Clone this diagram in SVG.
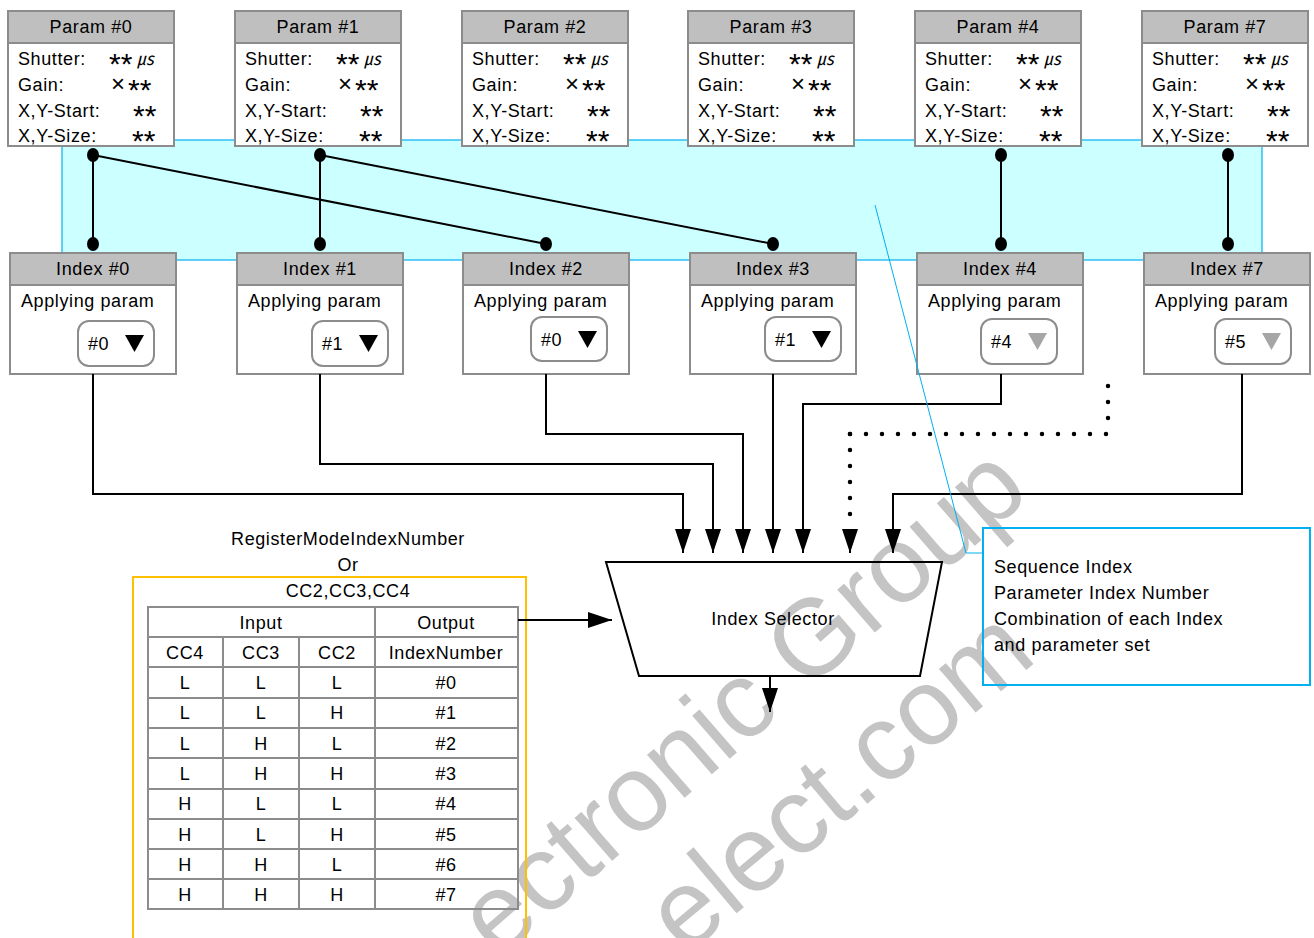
<svg xmlns="http://www.w3.org/2000/svg" width="1314" height="938" viewBox="0 0 1314 938">
<style>
text{font-family:"Liberation Sans",Arial,sans-serif;font-size:18px;fill:#000;letter-spacing:0.6px}
.c{text-anchor:middle}
.ast{font-size:30px;letter-spacing:0}
.x{font-size:24px;letter-spacing:0}
.mu{font-family:"Noto Sans CJK JP","Noto Sans",sans-serif;font-size:17px;font-style:italic;letter-spacing:-1px}
.box{fill:#fff;stroke:#8c8c8c;stroke-width:2}
.hdr{fill:#bfbfbf;stroke:#8c8c8c;stroke-width:2}
.dd{fill:#fff;stroke:#8c8c8c;stroke-width:2}
.ln{fill:none;stroke:#000;stroke-width:2}
.arr{fill:none;stroke:#000;stroke-width:2;marker-end:url(#ah)}
.dot{fill:none;stroke:#000;stroke-width:4.5;stroke-linecap:round;stroke-dasharray:0 16}
.blue{fill:none;stroke:#00b0f0}
.grid{fill:none;stroke:#8c8c8c;stroke-width:2}
.wm{font-size:108px;fill:#c4c4c4;letter-spacing:0}
</style>
<defs>
<marker id="ah" markerUnits="userSpaceOnUse" markerWidth="24" markerHeight="16" refX="24" refY="8" orient="auto" viewBox="0 0 24 16">
<path d="M0,0 L24,8 L0,16 z" fill="#000"/>
</marker>
<ellipse id="jd" rx="6" ry="7" fill="#000"/>
<g id="prows">
<text x="10" y="54">Shutter:</text><text class="ast" x="101" y="63">**</text><text class="mu" x="129" y="54">㎲</text>
<text x="10" y="80">Gain:</text><text class="x" x="103" y="81">×</text><text class="ast" x="120" y="89">**</text>
<text x="10" y="106">X,Y-Start:</text><text class="ast" x="125" y="115">**</text>
<text x="10" y="131">X,Y-Size:</text><text class="ast" x="124" y="140">**</text>
</g>
</defs>
<rect width="1314" height="938" fill="#fff"/>

<!-- watermark -->
<g id="watermark">
<text class="wm c" transform="translate(765,728) rotate(-41)">ectronic Group</text>
<text class="wm c" transform="translate(862,808) rotate(-40)">elect.com</text>
</g>

<!-- cyan region -->
<rect id="region" x="62" y="140" width="1200" height="120" fill="#ccffff" stroke="#00b0f0" stroke-width="1.2"/>

<!-- Param boxes -->
<g id="param0" transform="translate(8,11)">
<rect class="box" width="166" height="135"/><rect class="hdr" width="166" height="32"/>
<text class="c" x="83" y="22">Param #0</text><use href="#prows"/>
</g>
<g id="param1" transform="translate(235,11)">
<rect class="box" width="166" height="135"/><rect class="hdr" width="166" height="32"/>
<text class="c" x="83" y="22">Param #1</text><use href="#prows"/>
</g>
<g id="param2" transform="translate(462,11)">
<rect class="box" width="166" height="135"/><rect class="hdr" width="166" height="32"/>
<text class="c" x="83" y="22">Param #2</text><use href="#prows"/>
</g>
<g id="param3" transform="translate(688,11)">
<rect class="box" width="166" height="135"/><rect class="hdr" width="166" height="32"/>
<text class="c" x="83" y="22">Param #3</text><use href="#prows"/>
</g>
<g id="param4" transform="translate(915,11)">
<rect class="box" width="166" height="135"/><rect class="hdr" width="166" height="32"/>
<text class="c" x="83" y="22">Param #4</text><use href="#prows"/>
</g>
<g id="param7" transform="translate(1142,11)">
<rect class="box" width="166" height="135"/><rect class="hdr" width="166" height="32"/>
<text class="c" x="83" y="22">Param #7</text><use href="#prows"/>
</g>

<!-- Index boxes -->
<g id="index0" transform="translate(10,253)">
<rect class="box" width="166" height="121"/><rect class="hdr" width="166" height="32"/>
<text class="c" x="83" y="22">Index #0</text>
<text x="11" y="54">Applying param</text>
<rect class="dd" x="68" y="68" width="76" height="45" rx="11"/>
<text x="78" y="97">#0</text><polygon points="115,82 134,82 124.5,99" fill="#000"/>
</g>
<g id="index1" transform="translate(237,253)">
<rect class="box" width="166" height="121"/><rect class="hdr" width="166" height="32"/>
<text class="c" x="83" y="22">Index #1</text>
<text x="11" y="54">Applying param</text>
<rect class="dd" x="75" y="68" width="76" height="45" rx="11"/>
<text x="85" y="97">#1</text><polygon points="122,82 141,82 131.5,99" fill="#000"/>
</g>
<g id="index2" transform="translate(463,253)">
<rect class="box" width="166" height="121"/><rect class="hdr" width="166" height="32"/>
<text class="c" x="83" y="22">Index #2</text>
<text x="11" y="54">Applying param</text>
<rect class="dd" x="68" y="64" width="76" height="44" rx="11"/>
<text x="78" y="93">#0</text><polygon points="115,78 134,78 124.5,95" fill="#000"/>
</g>
<g id="index3" transform="translate(690,253)">
<rect class="box" width="166" height="121"/><rect class="hdr" width="166" height="32"/>
<text class="c" x="83" y="22">Index #3</text>
<text x="11" y="54">Applying param</text>
<rect class="dd" x="75" y="64" width="76" height="44" rx="11"/>
<text x="85" y="93">#1</text><polygon points="122,78 141,78 131.5,95" fill="#000"/>
</g>
<g id="index4" transform="translate(917,253)">
<rect class="box" width="166" height="121"/><rect class="hdr" width="166" height="32"/>
<text class="c" x="83" y="22">Index #4</text>
<text x="11" y="54">Applying param</text>
<rect class="dd" x="64" y="66" width="76" height="45" rx="11"/>
<text x="74" y="95">#4</text><polygon points="111,80 130,80 120.5,97" fill="#a6a6a6"/>
</g>
<g id="index7" transform="translate(1144,253)">
<rect class="box" width="166" height="121"/><rect class="hdr" width="166" height="32"/>
<text class="c" x="83" y="22">Index #7</text>
<text x="11" y="54">Applying param</text>
<rect class="dd" x="71" y="66" width="76" height="45" rx="11"/>
<text x="81" y="95">#5</text><polygon points="118,80 137,80 127.5,97" fill="#a6a6a6"/>
</g>

<!-- Index Selector -->
<g id="selector">
<polygon points="606,562 942,562 920,676 639,676" fill="none" stroke="#000" stroke-width="2"/>
<text class="c" x="773" y="625">Index Selector</text>
</g>

<!-- callout -->
<g id="callout">
<rect x="983" y="528" width="327" height="157" fill="none" stroke="#00b0f0" stroke-width="2"/>
<text x="994" y="573">Sequence Index</text>
<text x="994" y="599">Parameter Index Number</text>
<text x="994" y="625">Combination of each Index</text>
<text x="994" y="651">and parameter set</text>
</g>

<!-- table -->
<g id="table">
<text class="c" x="348" y="545">RegisterModeIndexNumber</text>
<text class="c" x="348" y="571">Or</text>
<rect x="133" y="577" width="393" height="420" fill="none" stroke="#ffc000" stroke-width="2"/>
<text class="c" x="348" y="597">CC2,CC3,CC4</text>
<rect class="grid" x="148" y="607" width="370" height="302"/>
<path class="grid" d="M148,637H518 M148,667H518 M148,698H518 M148,728H518 M148,758H518 M148,789H518 M148,819H518 M148,849H518 M148,879H518 M375,607V909 M223,637V909 M299,637V909"/>
<text class="c" x="261" y="629">Input</text><text class="c" x="446" y="629">Output</text>
<text class="c" x="185" y="659">CC4</text><text class="c" x="261" y="659">CC3</text><text class="c" x="337" y="659">CC2</text><text class="c" x="446" y="659">IndexNumber</text>
<text class="c" x="185" y="689">L</text><text class="c" x="261" y="689">L</text><text class="c" x="337" y="689">L</text><text class="c" x="446" y="689">#0</text>
<text class="c" x="185" y="719">L</text><text class="c" x="261" y="719">L</text><text class="c" x="337" y="719">H</text><text class="c" x="446" y="719">#1</text>
<text class="c" x="185" y="750">L</text><text class="c" x="261" y="750">H</text><text class="c" x="337" y="750">L</text><text class="c" x="446" y="750">#2</text>
<text class="c" x="185" y="780">L</text><text class="c" x="261" y="780">H</text><text class="c" x="337" y="780">H</text><text class="c" x="446" y="780">#3</text>
<text class="c" x="185" y="810">H</text><text class="c" x="261" y="810">L</text><text class="c" x="337" y="810">L</text><text class="c" x="446" y="810">#4</text>
<text class="c" x="185" y="841">H</text><text class="c" x="261" y="841">L</text><text class="c" x="337" y="841">H</text><text class="c" x="446" y="841">#5</text>
<text class="c" x="185" y="871">H</text><text class="c" x="261" y="871">H</text><text class="c" x="337" y="871">L</text><text class="c" x="446" y="871">#6</text>
<text class="c" x="185" y="901">H</text><text class="c" x="261" y="901">H</text><text class="c" x="337" y="901">H</text><text class="c" x="446" y="901">#7</text>
</g>

<!-- connectors -->
<g id="connectors">
<path class="ln" d="M93,155V244 M93,155L546,244 M320,155V244 M320,155L773,244 M1001,155V244 M1228,155V244"/>
<use href="#jd" x="93" y="155"/><use href="#jd" x="93" y="244"/><use href="#jd" x="546" y="244"/>
<use href="#jd" x="320" y="155"/><use href="#jd" x="320" y="244"/><use href="#jd" x="773" y="244"/>
<use href="#jd" x="1001" y="155"/><use href="#jd" x="1001" y="244"/>
<use href="#jd" x="1228" y="155"/><use href="#jd" x="1228" y="244"/>
<path class="arr" d="M93,374V494H683V553"/>
<path class="arr" d="M320,374V464H713V553"/>
<path class="arr" d="M546,374V434H743V553"/>
<path class="arr" d="M773,374V553"/>
<path class="arr" d="M1001,374V404H803V553"/>
<path class="arr" d="M1242,374V494H893V553"/>
<path class="dot" d="M1108,386V434"/>
<path class="dot" d="M850,434H1108"/>
<path class="dot" d="M850,434V530"/>
<path class="arr" d="M850,540V553"/>
<path class="arr" d="M518,620H612"/>
<path class="arr" d="M770,676V712"/>
<polyline class="blue" points="875,205 966,553 983,553"/>
</g>
</svg>
